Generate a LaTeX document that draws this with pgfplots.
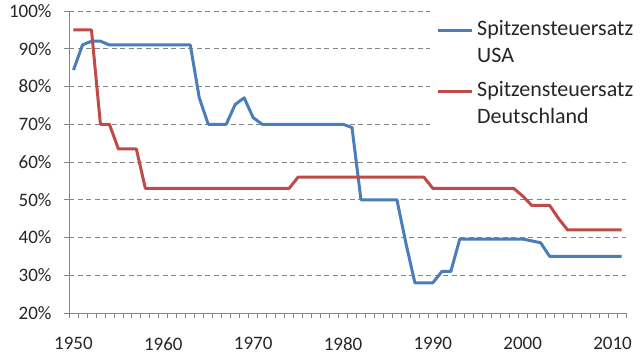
\documentclass[border=0pt]{standalone}
\usepackage{fontspec}
\setmainfont{Carlito}
\usepackage{pgfplots}
\usepackage{pgfplotstable}
\pgfplotsset{compat=1.18}

\definecolor{usblue}{HTML}{4A7EBB}
\definecolor{dered}{HTML}{BE4B48}
\definecolor{axisgray}{HTML}{868686}

% struts for the legend lines: a normal line and the first line after a gap
\newcommand\lstrut{\rule[-7bp]{0pt}{28.4bp}}
\newcommand\gapstrut{\rule[-7bp]{0pt}{35.6bp}}

% Top marginal income tax rates (%)
\pgfplotstableread{
year rate
1950 84.36
1951 91
1952 92
1953 92
1954 91
1955 91
1956 91
1957 91
1958 91
1959 91
1960 91
1961 91
1962 91
1963 91
1964 77
1965 70
1966 70
1967 70
1968 75.25
1969 77
1970 71.75
1971 70
1972 70
1973 70
1974 70
1975 70
1976 70
1977 70
1978 70
1979 70
1980 70
1981 69.13
1982 50
1983 50
1984 50
1985 50
1986 50
1987 38.5
1988 28
1989 28
1990 28
1991 31
1992 31
1993 39.6
1994 39.6
1995 39.6
1996 39.6
1997 39.6
1998 39.6
1999 39.6
2000 39.6
2001 39.1
2002 38.6
2003 35
2004 35
2005 35
2006 35
2007 35
2008 35
2009 35
2010 35
2011 35
}\usadata

\pgfplotstableread{
year rate
1950 95
1951 95
1952 95
1953 70
1954 70
1955 63.45
1956 63.45
1957 63.45
1958 53
1959 53
1960 53
1961 53
1962 53
1963 53
1964 53
1965 53
1966 53
1967 53
1968 53
1969 53
1970 53
1971 53
1972 53
1973 53
1974 53
1975 56
1976 56
1977 56
1978 56
1979 56
1980 56
1981 56
1982 56
1983 56
1984 56
1985 56
1986 56
1987 56
1988 56
1989 56
1990 53
1991 53
1992 53
1993 53
1994 53
1995 53
1996 53
1997 53
1998 53
1999 53
2000 51
2001 48.5
2002 48.5
2003 48.5
2004 45
2005 42
2006 42
2007 42
2008 42
2009 42
2010 42
2011 42
}\dedata

\begin{document}
\begin{tikzpicture}
\path[use as bounding box] (0,0) rectangle (640bp,360bp);
\begin{axis}[
  at={(69bp,47bp)}, anchor=south west,
  scale only axis, width=557bp, height=302bp,
  xmin=1949.5, xmax=2011.5,
  ymin=20, ymax=100,
  axis x line=bottom, axis y line=left,
  axis line style={-, draw=axisgray, line width=0.8bp},
  xtick={1950,1960,...,2010},
  minor xtick={1949.5,1950.5,...,2011.5},
  major x tick style={draw=none},
  minor x tick style={draw=axisgray, line width=0.8bp},
  minor tick length=5bp,
  ytick={20,30,...,100},
  major y tick style={draw=axisgray, line width=0.8bp},
  major tick length=5bp,
  tick align=outside,
  ymajorgrids,
  grid style={axisgray, line width=0.8bp, dash pattern=on 5bp off 3.5bp},
  /pgf/number format/assume math mode=true,
  xticklabel={\pgfmathprintnumber[1000 sep={}]{\tick}},
  yticklabel={\pgfmathprintnumber{\tick}\%},
  tick label style={font=\fontsize{19bp}{22bp}\selectfont, text=black!85},
  x tick label style={yshift=-16bp},
  y tick label style={xshift=-9bp},
  clip=false,
  legend style={at={(0.6481,1.0169)}, anchor=north west,
    fill=white, draw=none, inner sep=6bp,
    font=\fontsize{22bp}{28bp}\selectfont, text=black!85,
    row sep=0pt, column sep=2bp,
    cells={anchor=base west, inner sep=0pt}},
  legend image code/.code={\draw[#1] (0bp,5bp) -- (34bp,5bp);},
]
\addplot[usblue, line width=3bp, line join=round] table[x=year, y=rate] {\usadata};
\addlegendentry{\lstrut Spitzensteuersatz}
\addlegendimage{empty legend}
\addlegendentry{\lstrut USA}
\addplot[dered, line width=3bp, line join=round] table[x=year, y=rate] {\dedata};
\addlegendentry{\gapstrut Spitzensteuersatz}
\addlegendimage{empty legend}
\addlegendentry{\lstrut Deutschland\rule[-14bp]{0pt}{0pt}}
\end{axis}
\end{tikzpicture}
\end{document}
